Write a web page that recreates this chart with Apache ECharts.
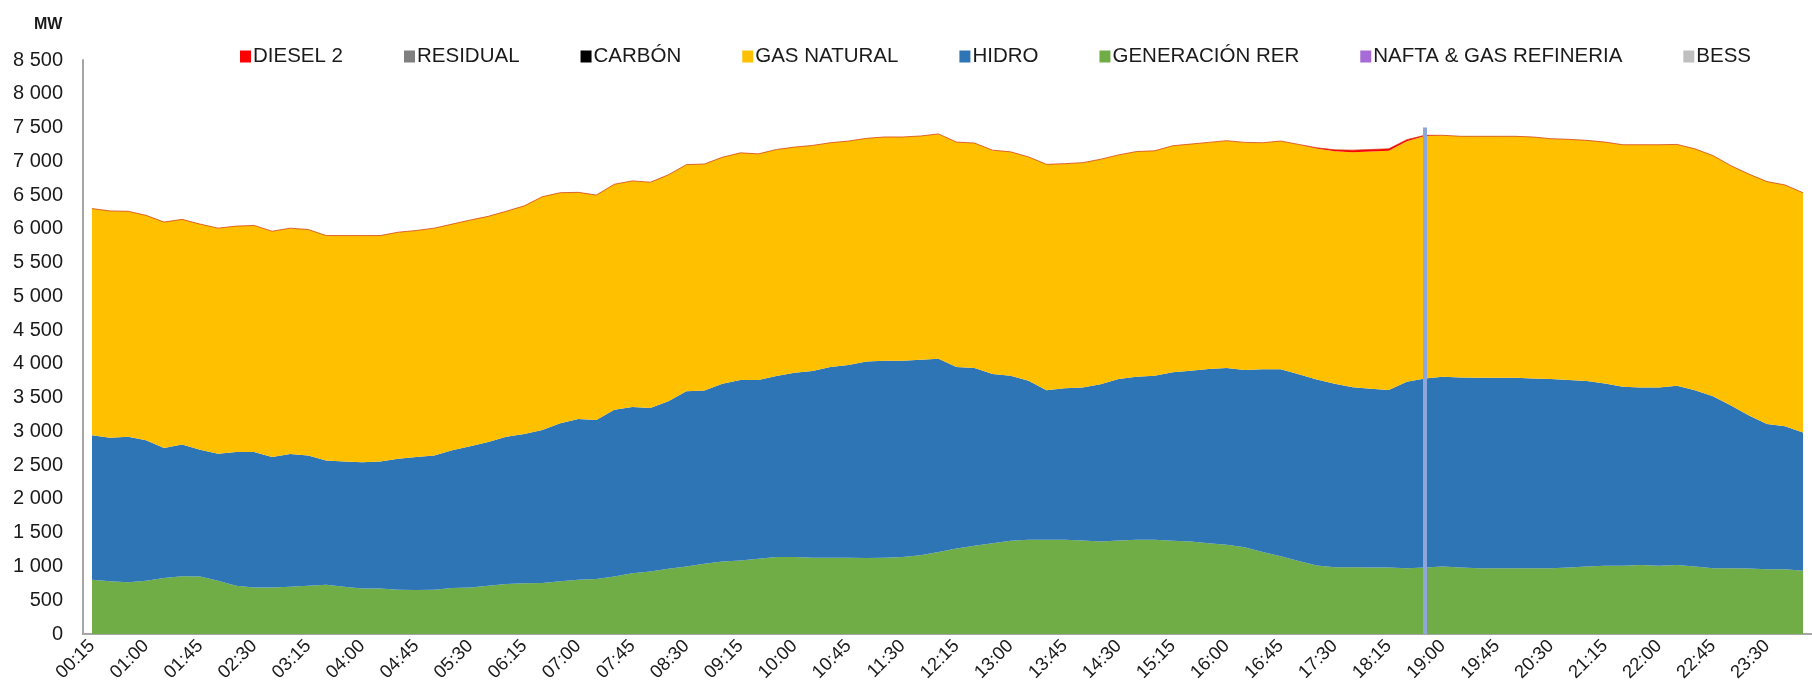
<!DOCTYPE html>
<html>
<head>
<meta charset="utf-8">
<script src="https://cdn.jsdelivr.net/npm/echarts@6/dist/echarts.min.js"></script>
<style>
html, body { margin: 0; padding: 0; background: #fff; }
#chart { width: 1812px; height: 697px; }
</style>
</head>
<body>
<div id="chart"></div>
<script>

// horas: 00:15 ... 24:00 cada 15 min
var horas = [];
for (var m = 15; m <= 1440; m += 15) {
    var h = Math.floor(m / 60), mm = m % 60;
    horas.push((h < 10 ? '0' : '') + h + ':' + (mm < 10 ? '0' : '') + mm);
}

var generacionRer = [805,780,765,790,830,855,850,790,715,690,
    690,700,715,730,700,675,675,655,650,655,
    680,690,715,740,750,755,780,805,815,850,
    900,925,965,1000,1040,1075,1090,1115,1140,1140,
    1130,1130,1130,1125,1130,1140,1165,1215,1265,1305,
    1345,1380,1395,1395,1395,1385,1370,1385,1395,1395,
    1380,1370,1345,1320,1285,1215,1150,1080,1015,990,
    990,985,985,975,985,1000,985,975,975,975,
    975,975,985,1000,1010,1010,1020,1010,1020,1000,
    975,975,970,960,960,935];

var hidro = [2140,2125,2155,2080,1925,1950,1880,1880,1980,2005,
    1930,1965,1930,1840,1855,1870,1880,1940,1970,1990,
    2040,2090,2130,2180,2210,2265,2340,2380,2355,2470,
    2460,2420,2480,2595,2565,2630,2670,2645,2680,2730,
    2765,2825,2855,2910,2915,2905,2895,2860,2690,2635,
    2505,2445,2355,2215,2245,2265,2330,2390,2415,2430,
    2495,2530,2580,2620,2625,2705,2770,2765,2755,2715,
    2665,2645,2630,2760,2800,2810,2815,2820,2820,2820,
    2810,2800,2775,2745,2700,2650,2630,2640,2655,2610,
    2545,2410,2265,2150,2115,2050];

var gasNatural = [3355,3360,3340,3330,3345,3335,3340,3340,3345,3355,
    3345,3345,3345,3330,3345,3355,3345,3355,3355,3365,
    3350,3350,3340,3340,3380,3455,3415,3355,3330,3340,
    3350,3345,3355,3355,3355,3355,3365,3350,3355,3340,
    3340,3320,3315,3305,3315,3315,3315,3330,3330,3330,
    3315,3315,3315,3345,3325,3330,3330,3320,3335,3330,
    3355,3355,3355,3365,3370,3355,3380,3405,3420,3445,
    3480,3515,3540,3560,3590,3575,3570,3575,3575,3575,
    3575,3560,3565,3565,3575,3585,3595,3595,3575,3575,
    3565,3550,3575,3590,3575,3550];

var diesel2 = [0,0,0,0,0,0,0,0,0,0,
    0,0,0,0,0,0,0,0,0,0,
    0,0,0,0,0,0,0,0,0,0,
    0,0,0,0,0,0,0,0,0,0,
    0,0,0,0,0,0,0,0,0,0,
    0,0,0,0,0,0,0,0,0,0,
    0,0,0,0,0,0,0,0,10,20,
    30,30,30,25,10,0,0,0,0,0,
    0,0,0,0,0,0,0,0,0,0,
    0,0,0,0,0,0];

var residual = [], carbon = [], nafta = [], bess = [];

var yTicks = {min: 0, max: 8500, step: 500};
var horaMarca = '18:45', topeMarca = 7500;

var myChart = echarts.init(document.getElementById('chart'));

function miles(v){
    return String(v).replace(/\B(?=(\d{3})+(?!\d))/g, ' ');
}

function capa(nombre, datos, color, extra){
    var s = {
        name: nombre,
        type: 'line',
        stack: 'total',
        data: datos,
        symbol: 'none',
        showSymbol: false,
        smooth: false,
        itemStyle: {color: color},
        lineStyle: {width: 0, color: color},
        areaStyle: {color: color, opacity: 1},
        emphasis: {disabled: true},
        silent: true
    };
    if (extra) Object.keys(extra).forEach(function(k){ s[k] = extra[k]; });
    return s;
}

var option = {
    animation: false,
    backgroundColor: '#fff',
    title: {
        text: 'MW',
        left: 29,
        top: 12,
        textStyle: {fontFamily: 'Liberation Sans', fontSize: 16, fontWeight: 'bold', color: '#1a1a1a'}
    },
    legend: {
        data: ['DIESEL 2', 'RESIDUAL', 'CARBÓN', 'GAS NATURAL', 'HIDRO', 'GENERACIÓN RER', 'NAFTA & GAS REFINERIA', 'BESS'],
        left: 235,
        top: 41,
        icon: 'rect',
        itemWidth: 11,
        itemHeight: 12,
        itemGap: 61,
        textStyle: {fontFamily: 'Liberation Sans', fontSize: 20.5, color: '#1a1a1a', padding: [0, 0, 0, -3]}
    },
    grid: {left: 83, right: -7, top: 60, bottom: 63, containLabel: false},
    xAxis: {
        type: 'category',
        data: horas,
        boundaryGap: true,
        axisLine: {lineStyle: {color: '#A6A6A6', width: 2}},
        axisTick: {show: false},
        axisLabel: {
            interval: 2,
            rotate: 45,
            margin: 9,
            fontFamily: 'Liberation Sans',
            fontSize: 18.5,
            color: '#1a1a1a'
        },
        splitLine: {show: false}
    },
    yAxis: {
        type: 'value',
        min: yTicks.min,
        max: yTicks.max,
        interval: yTicks.step,
        axisLine: {show: true, lineStyle: {color: '#A6A6A6', width: 2}},
        axisTick: {show: false},
        splitLine: {show: false},
        axisLabel: {
            margin: 20,
            fontFamily: 'Liberation Sans',
            fontSize: 20,
            color: '#1a1a1a',
            formatter: miles
        }
    },
    series: [
        capa('GENERACIÓN RER', generacionRer, '#70AD47'),
        capa('HIDRO', hidro, '#2E75B6'),
        capa('GAS NATURAL', gasNatural, '#FFC000'),
        capa('NAFTA & GAS REFINERIA', nafta, '#A66BD6'),
        capa('BESS', bess, '#BFBFBF'),
        capa('RESIDUAL', residual, '#7F7F7F'),
        capa('CARBÓN', carbon, '#000000'),
        capa('DIESEL 2', diesel2, '#FF0000', {
            lineStyle: {width: 1, color: 'rgba(210,60,20,0.75)'},
            markLine: {
                silent: true,
                symbol: 'none',
                label: {show: false},
                lineStyle: {color: '#8EA6DA', width: 4, type: 'solid'},
                data: [[{coord: [horaMarca, 0]}, {coord: [horaMarca, topeMarca]}]]
            }
        })
    ]
};

myChart.setOption(option);

window.onresize = function(){
    myChart.resize();
};
</script>
</body>
</html>
